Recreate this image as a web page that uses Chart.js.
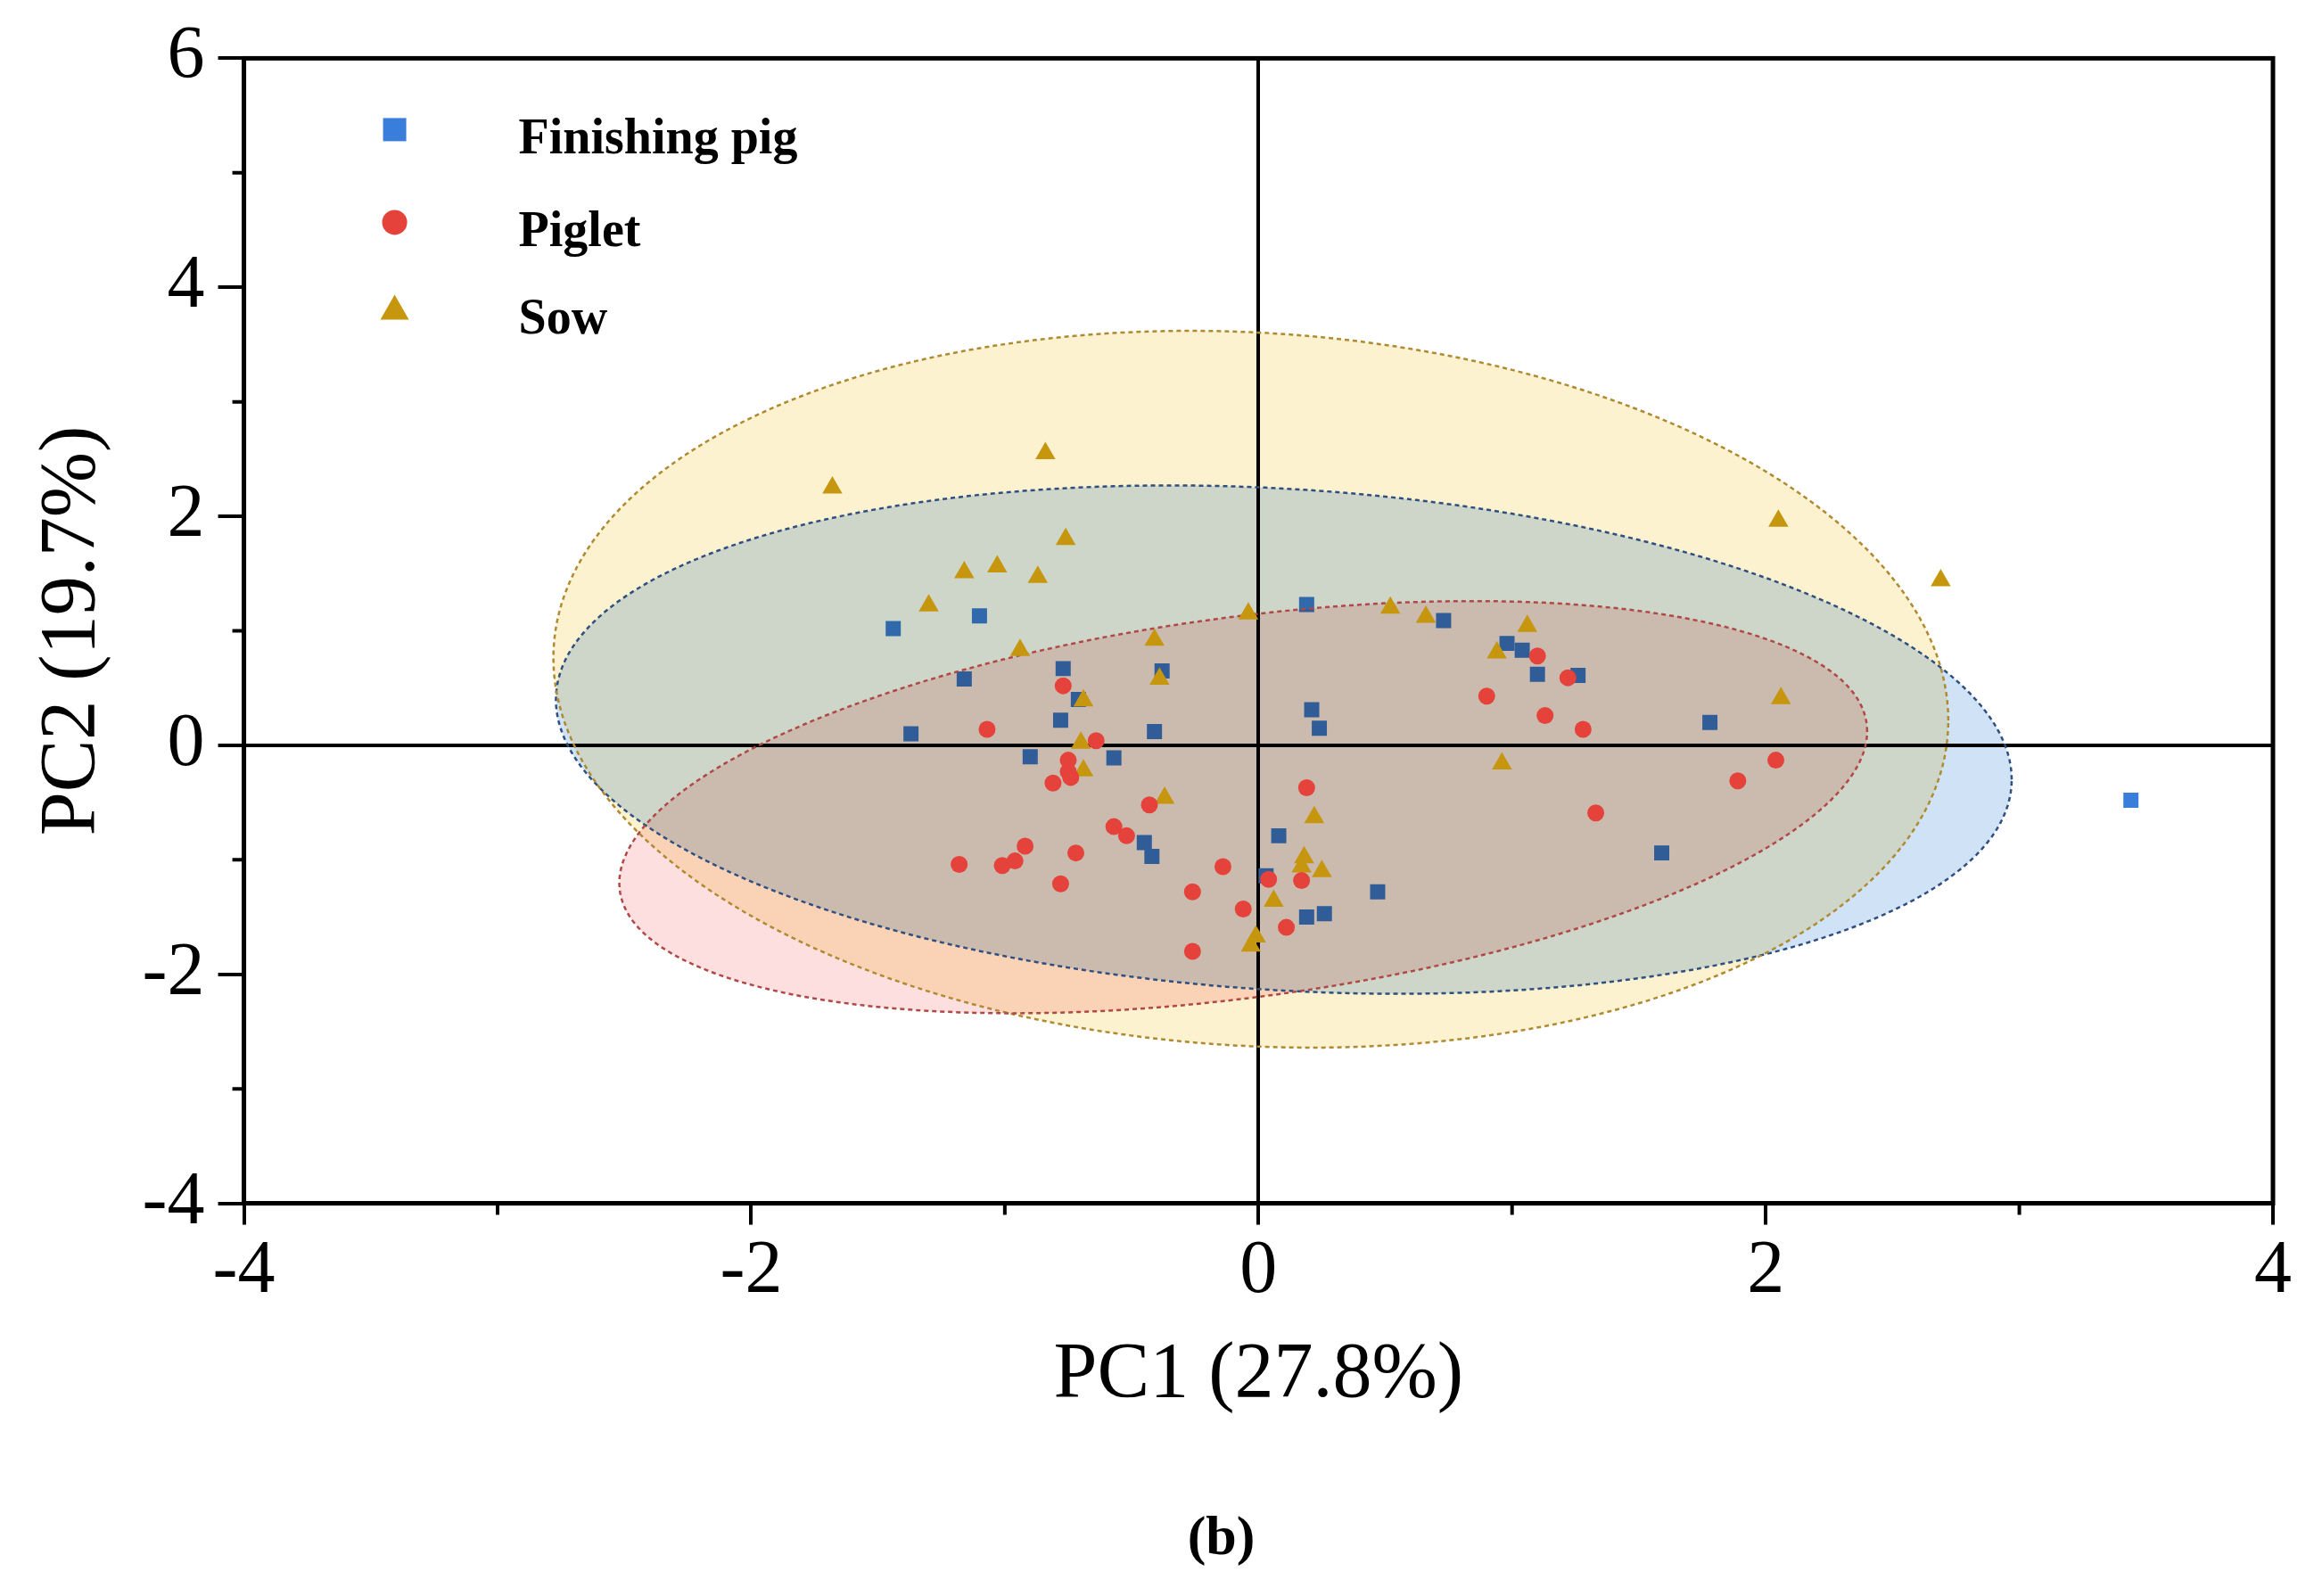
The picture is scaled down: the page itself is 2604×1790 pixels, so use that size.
<!DOCTYPE html>
<html>
<head>
<meta charset="utf-8">
<script src="https://cdn.jsdelivr.net/npm/chart.js@4.4.1/dist/chart.umd.min.js"></script>
<style>
  html, body { margin: 0; padding: 0; background: #fff; }
  canvas { display: block; }
</style>
</head>
<body>
<canvas id="pca" width="2604" height="1790"></canvas>
<script>
const groups = ['Finishing pig', 'Piglet', 'Sow'];
const markerColors = ['#3a7edc', '#e4423a', '#c6960f'];

// scores (PC1, PC2)
const finishingPC1 = [-1.44, -1.10, -0.77, -0.38, -1.16, -0.71, -0.78, -1.37, -0.41, -0.90,
  -0.57, -0.45, -0.42, 0.08, 0.03, 0.19, 0.73, 0.98, 1.04, 1.10, 1.26, 0.21, 0.24, 1.78,
  0.47, 0.19, 0.26, 1.59, 3.44];
const finishingPC2 = [1.02, 1.13, 0.67, 0.65, 0.58, 0.40, 0.22, 0.10, 0.12, -0.10,
  -0.11, -0.85, -0.97, -0.79, -1.14, 1.23, 1.09, 0.89, 0.83, 0.62, 0.61, 0.31, 0.15, 0.20,
  -1.28, -1.50, -1.47, -0.94, -0.48];

const pigletPC1 = [-0.77, -1.07, -0.64, -0.75, -0.75, -0.74, -0.81, -0.43, -0.57, -0.52,
  -0.92, -0.96, -1.01, -1.18, -0.72, -0.78, -0.14, -0.26, -0.06, -0.26, 0.04, 0.11,
  1.10, 1.22, 0.90, 1.13, 1.28, 0.19, 0.17, 1.33, 1.89, 2.04];
const pigletPC2 = [0.52, 0.14, 0.04, -0.13, -0.23, -0.28, -0.33, -0.52, -0.71, -0.79,
  -0.88, -1.01, -1.05, -1.04, -0.94, -1.21, -1.06, -1.28, -1.43, -1.80, -1.17, -1.59,
  0.78, 0.59, 0.43, 0.26, 0.14, -0.37, -1.18, -0.59, -0.31, -0.13];

const sowPC1 = [-0.84, -1.68, -0.76, -1.16, -1.03, -0.87, -1.30, -0.94, -0.41, -0.04,
  -0.39, -0.69, -0.70, -0.69, -0.37, 0.06, -0.01, -0.03, 0.52, 0.66, 1.06, 0.94,
  0.96, 0.22, 0.18, 0.25, 0.17, 2.05, 2.69, 2.06];
const sowPC2 = [2.55, 2.25, 1.80, 1.51, 1.56, 1.47, 1.22, 0.83, 0.92, 1.15,
  0.58, 0.39, 0.02, -0.22, -0.46, -1.36, -1.67, -1.75, 1.20, 1.12, 1.04, 0.81,
  -0.16, -0.63, -0.98, -1.10, -1.06, 1.96, 1.44, 0.41];

// confidence ellipses: centre, half extent along PC1 / PC2, covariance term
const ellipseCenterX = [0.10, -0.06, -0.03];
const ellipseCenterY = [0.05, -0.54, 0.49];
const ellipseHalfX = [2.87, 2.46, 2.75];
const ellipseHalfY = [2.22, 1.80, 3.13];
const ellipseCov = [-1.0, 1.63, -0.75];
const ellipseFill = ['#d0e2f5', '#fddfe0', '#fcf2d0'];
const ellipseEdge = ['#2f4f80', '#b04848', '#b08a30'];

const xTickValues = [-4, -2, 0, 2, 4];
const yTickValues = [-4, -2, 0, 2, 4, 6];
const xMinorTicks = [-3, -1, 1, 3];
const yMinorTicks = [-3, -1, 1, 3, 5];

const toPoints = (xs, ys) => xs.map((x, i) => ({ x, y: ys[i] }));
const serif = 'Liberation Serif';

function ellipsePath(ctx, x, y, g) {
  const k = ellipseCov[g] / ellipseHalfX[g];
  const r = Math.sqrt(ellipseHalfY[g] * ellipseHalfY[g] - k * k);
  ctx.beginPath();
  for (let s = 0; s <= 240; s++) {
    const t = s / 240 * Math.PI * 2;
    const px = x.getPixelForValue(ellipseCenterX[g] + ellipseHalfX[g] * Math.cos(t));
    const py = y.getPixelForValue(ellipseCenterY[g] + k * Math.cos(t) + r * Math.sin(t));
    if (s === 0) ctx.moveTo(px, py); else ctx.lineTo(px, py);
  }
  ctx.closePath();
}

const ellipsePlugin = {
  id: 'ellipses',
  // squares sit under the ellipses, circles and triangles on top
  afterDatasetDraw(chart, args) {
    if (args.index !== 0) return;
    const { ctx, scales: { x, y } } = chart;
    ctx.save();
    [0, 2, 1].forEach(g => {
      ellipsePath(ctx, x, y, g);
      ctx.globalCompositeOperation = 'multiply';
      ctx.fillStyle = ellipseFill[g];
      ctx.fill();
    });
    ctx.globalCompositeOperation = 'source-over';
    [0, 2, 1].forEach(g => {
      ellipsePath(ctx, x, y, g);
      ctx.setLineDash([5, 4]);
      ctx.lineWidth = 2.5;
      ctx.strokeStyle = ellipseEdge[g];
      ctx.stroke();
    });
    ctx.restore();
  },
  afterDraw(chart) {
    const { ctx, chartArea: a, scales: { x, y } } = chart;
    ctx.save();
    // frame top + right
    ctx.strokeStyle = '#000';
    ctx.lineWidth = 5;
    ctx.strokeRect(a.left, a.top, a.right - a.left, a.bottom - a.top);
    // minor ticks
    ctx.lineWidth = 4;
    ctx.beginPath();
    xMinorTicks.forEach(v => {
      const px = x.getPixelForValue(v);
      ctx.moveTo(px, a.bottom); ctx.lineTo(px, a.bottom + 13);
    });
    yMinorTicks.forEach(v => {
      const py = y.getPixelForValue(v);
      ctx.moveTo(a.left, py); ctx.lineTo(a.left - 13, py);
    });
    ctx.stroke();

    // legend
    const rows = [80, 184, 282];
    const mx = a.left + 169;
    ctx.font = 'bold 56px "' + serif + '"';
    ctx.textBaseline = 'alphabetic';
    ctx.textAlign = 'left';
    groups.forEach((name, i) => {
      const cy = a.top + rows[i];
      ctx.fillStyle = markerColors[i];
      ctx.beginPath();
      if (i === 0) ctx.rect(mx - 13, cy - 13, 26, 26);
      else if (i === 1) ctx.arc(mx, cy, 14, 0, Math.PI * 2);
      else { ctx.moveTo(mx, cy - 17); ctx.lineTo(mx + 16, cy + 11); ctx.lineTo(mx - 16, cy + 11); ctx.closePath(); }
      ctx.fill();
      ctx.fillStyle = '#000';
      ctx.fillText(name, a.left + 308, cy + 27);
    });

    // panel label
    ctx.font = 'bold 62px "' + serif + '"';
    ctx.textAlign = 'center';
    ctx.textBaseline = 'middle';
    ctx.fillText('(b)', a.left + 1096, chart.height - 63);
    ctx.restore();
  }
};

const axisGrid = len => ({
  color: c => (c.tick && c.tick.value === 0 ? '#000' : 'rgba(0,0,0,0)'),
  lineWidth: 4,
  tickColor: '#000',
  tickWidth: 4,
  tickLength: len,
  drawOnChartArea: true
});

new Chart(document.getElementById('pca'), {
  type: 'scatter',
  data: {
    datasets: [
      { label: groups[0], data: toPoints(finishingPC1, finishingPC2), pointStyle: 'rect', order: 3,
        pointRadius: 12, backgroundColor: markerColors[0], borderWidth: 0 },
      { label: groups[1], data: toPoints(pigletPC1, pigletPC2), pointStyle: 'circle', order: 1,
        pointRadius: 9.5, backgroundColor: markerColors[1], borderWidth: 0 },
      { label: groups[2], data: toPoints(sowPC1, sowPC2), pointStyle: 'triangle', order: 2,
        pointRadius: 13, backgroundColor: markerColors[2], borderWidth: 0 }
    ]
  },
  options: {
    responsive: false,
    devicePixelRatio: 1,
    animation: false,
    layout: { padding: { top: 19, right: 55, bottom: 184, left: 19 } },
    plugins: { legend: { display: false }, tooltip: { enabled: false } },
    scales: {
      x: {
        type: 'linear', min: -4, max: 4,
        afterBuildTicks: axis => { axis.ticks = xTickValues.map(v => ({ value: v })); },
        ticks: { font: { family: serif, size: 84 }, color: '#000', padding: 3, callback: v => String(v) },
        grid: axisGrid(24),
        border: { display: true, color: '#000', width: 5 },
        title: { display: true, text: 'PC1 (27.8%)', color: '#000',
          font: { family: serif, size: 88 }, padding: { top: 10, bottom: 10 } }
      },
      y: {
        type: 'linear', min: -4, max: 6,
        afterBuildTicks: axis => { axis.ticks = yTickValues.map(v => ({ value: v })); },
        ticks: { font: { family: serif, size: 84 }, color: '#000', padding: 15, callback: v => String(v) },
        grid: axisGrid(29),
        border: { display: true, color: '#000', width: 5 },
        title: { display: true, text: 'PC2 (19.7%)', color: '#000',
          font: { family: serif, size: 88 }, padding: { top: 10, bottom: 10 } }
      }
    }
  },
  plugins: [ellipsePlugin]
});
</script>
</body>
</html>
